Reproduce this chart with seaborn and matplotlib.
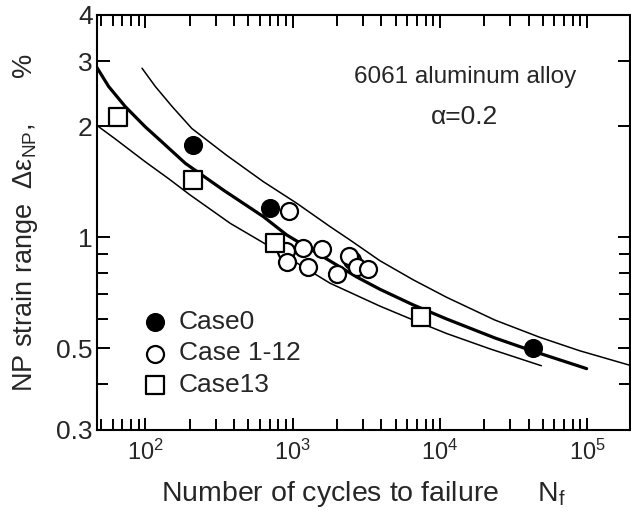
import matplotlib
matplotlib.use("Agg")
import matplotlib.pyplot as plt
import seaborn as sns
from matplotlib.ticker import FixedLocator, FixedFormatter, LogLocator, NullFormatter

# measured points (cycles to failure, NP strain range %)
case0_n = [211, 703, 42600]
case0_eps = [1.78, 1.20, 0.50]

case112_n = [946, 904, 917, 1178, 1585, 1274, 2004, 2530, 2415, 2735, 3250]
case112_eps = [1.18, 0.917, 0.857, 0.935, 0.93, 0.83, 0.795, 0.868, 0.886, 0.83, 0.82]

case13_n = [65, 211, 762, 7430]
case13_eps = [2.12, 1.43, 0.964, 0.608]

# fitted curve and scatter band
mean_n = [46, 56.4, 73, 100, 130, 187, 340, 634, 914, 2720, 3920, 6590, 11100, 23600, 42700, 99200]
mean_eps = [2.92, 2.56, 2.26, 1.99, 1.81, 1.585, 1.34, 1.136, 1.013, 0.78, 0.722, 0.655, 0.600, 0.533, 0.491, 0.440]

upper_n = [95, 117, 152, 207, 354, 634, 1068, 1795, 2455, 3917, 6592, 11100, 23600, 47700, 88900, 200000]
upper_eps = [2.87, 2.56, 2.26, 1.97, 1.67, 1.413, 1.235, 1.068, 0.982, 0.863, 0.766, 0.687, 0.596, 0.535, 0.492, 0.448]

lower_n = [46, 62.6, 100, 144, 202, 377, 634, 1000, 1795, 3917, 6592, 11100, 21800, 48900]
lower_eps = [2.02, 1.845, 1.60, 1.44, 1.30, 1.09, 0.965, 0.865, 0.75, 0.65, 0.596, 0.548, 0.498, 0.448]

yticks = [0.3, 0.5, 1, 2, 3, 4]
ytick_labels = ['0.3', '0.5', '1', '2', '3', '4']
yminor = [0.4, 0.6, 0.7, 0.8, 0.9]

sns.set_style("ticks")
plt.rcParams['font.family'] = ['Liberation Sans', 'DejaVu Sans']
plt.rcParams['mathtext.fontset'] = 'custom'
plt.rcParams['mathtext.rm'] = 'Liberation Sans'
plt.rcParams['mathtext.it'] = 'Liberation Sans:italic'

fig = plt.figure(figsize=(6.31, 5.19), dpi=100)
ax = fig.add_axes([0.1537, 0.1715, 0.8445, 0.7996])
ax.set_xscale('log')
ax.set_yscale('log')

sns.lineplot(x=upper_n, y=upper_eps, color='black', linewidth=1.1, sort=False, estimator=None, ax=ax)
sns.lineplot(x=lower_n, y=lower_eps, color='black', linewidth=1.1, sort=False, estimator=None, ax=ax)
sns.lineplot(x=mean_n, y=mean_eps, color='black', linewidth=2.3, sort=False, estimator=None, ax=ax)

sns.scatterplot(x=case0_n, y=case0_eps, marker='o', s=150, color='black', edgecolor='black',
                linewidth=1.5, label='Case0', ax=ax, zorder=3)
sns.scatterplot(x=case112_n, y=case112_eps, marker='o', s=150, color='white', edgecolor='black',
                linewidth=1.6, label='Case 1-12', ax=ax, zorder=3)
sns.scatterplot(x=case13_n, y=case13_eps, marker='s', s=150, color='white', edgecolor='black',
                linewidth=1.6, label='Case13', ax=ax, zorder=3)

ax.set_xlim(47, 1.95e5)
ax.set_ylim(0.3, 4)

ax.yaxis.set_major_locator(FixedLocator(yticks))
ax.yaxis.set_major_formatter(FixedFormatter(ytick_labels))
ax.yaxis.set_minor_locator(FixedLocator(yminor))
ax.yaxis.set_minor_formatter(NullFormatter())
ax.xaxis.set_major_locator(LogLocator(base=10))
ax.xaxis.set_minor_locator(LogLocator(base=10, subs=range(2, 10)))
ax.xaxis.set_minor_formatter(NullFormatter())

ax.tick_params(which='both', direction='in', top=True, right=True, width=1.4, color='black')
ax.tick_params(which='major', length=9)
ax.tick_params(which='minor', length=8)
ax.tick_params(axis='y', labelsize=19, pad=3)
ax.tick_params(axis='x', labelsize=17, pad=7)
for sp in ax.spines.values():
    sp.set_linewidth(1.5)
    sp.set_color('black')

ax.set_xlabel('Number of cycles to failure     N$_{\\mathrm{f}}$', fontsize=20.5, labelpad=10)
ax.set_ylabel('NP strain range  Δε$_{\\mathrm{NP}}$,      %', fontsize=19.5, labelpad=12)

ax.text(0.69, 0.8506, '6061 aluminum alloy', transform=ax.transAxes, fontsize=17.5,
        ha='center', va='center')
ax.text(0.689, 0.754, 'α=0.2', transform=ax.transAxes, fontsize=19, ha='center', va='center')

ax.legend(loc='upper left', bbox_to_anchor=(0.0845, 0.289), frameon=False, fontsize=19,
          handlelength=1.0, handletextpad=0.4, labelspacing=0.28, borderpad=0, borderaxespad=0)

fig.savefig('out.png', dpi=100)
